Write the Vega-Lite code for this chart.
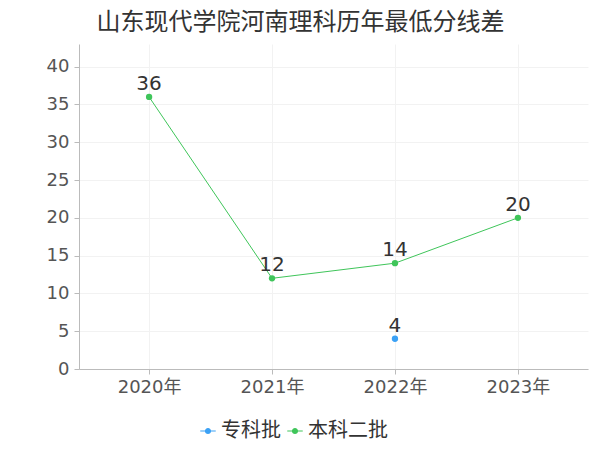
{
  "$schema": "https://vega.github.io/schema/vega-lite/v6.json",
  "width": 509,
  "height": 325,
  "autosize": {"type": "none"},
  "padding": {"left": 79, "top": 44, "right": 12, "bottom": 81},
  "background": "white",
  "title": {
    "text": "山东现代学院河南理科历年最低分线差",
    "font": "Noto Sans CJK SC",
    "fontSize": 24,
    "fontWeight": "normal",
    "color": "#333333",
    "anchor": "middle",
    "dx": -33,
    "offset": 9
  },
  "config": {
    "view": {"stroke": null},
    "font": "Noto Sans CJK SC"
  },
  "data": {
    "values": [
      {"year": "2020年", "type": "本科二批", "value": 36},
      {"year": "2021年", "type": "本科二批", "value": 12},
      {"year": "2022年", "type": "本科二批", "value": 14},
      {"year": "2023年", "type": "本科二批", "value": 20},
      {"year": "2022年", "type": "专科批", "value": 4}
    ]
  },
  "encoding": {
    "x": {
      "field": "year",
      "type": "ordinal",
      "scale": {"type": "point", "padding": 0.57},
      "axis": {
        "title": null,
        "labelAngle": 0,
        "labelFontSize": 18,
        "labelColor": "#555555",
        "labelFont": "DejaVu Sans, Noto Sans CJK SC",
        "domainColor": "#bbbbbb",
        "tickColor": "#bbbbbb",
        "tickSize": 5,
        "labelPadding": 4,
        "grid": true,
        "gridColor": "#f2f2f2"
      }
    },
    "y": {
      "field": "value",
      "type": "quantitative",
      "scale": {"domain": [0, 43], "nice": false},
      "axis": {
        "title": null,
        "values": [0, 5, 10, 15, 20, 25, 30, 35, 40],
        "labelFontSize": 18,
        "labelFont": "DejaVu Sans",
        "labelColor": "#555555",
        "domainColor": "#bbbbbb",
        "tickColor": "#bbbbbb",
        "tickSize": 5,
        "labelPadding": 5,
        "gridColor": "#f2f2f2"
      }
    },
    "color": {
      "field": "type",
      "type": "nominal",
      "scale": {"domain": ["专科批", "本科二批"], "range": ["#3ba1f5", "#3fc55a"]},
      "legend": {
        "title": null,
        "orient": "none",
        "legendX": 119,
        "legendY": 377,
        "direction": "horizontal",
        "labelFontSize": 20,
        "labelColor": "#333333",
        "symbolType": "M-1,-0.08 L1,-0.08 L1,0.08 L-1,0.08 Z M0.4,0 A0.4,0.4 0 1,1 -0.4,0 A0.4,0.4 0 1,1 0.4,0 Z",
        "symbolSize": 240,
        "symbolStrokeWidth": 0,
        "columnPadding": 4,
        "labelOffset": 3
      }
    }
  },
  "layer": [
    {"mark": {"type": "line", "strokeWidth": 1}},
    {"mark": {"type": "point", "filled": true, "size": 40, "opacity": 1}},
    {
      "mark": {"type": "text", "dy": -13, "fontSize": 20, "font": "DejaVu Sans", "color": "#333333"},
      "encoding": {"text": {"field": "value", "type": "quantitative"}, "color": {"value": "#333333"}}
    }
  ]
}
